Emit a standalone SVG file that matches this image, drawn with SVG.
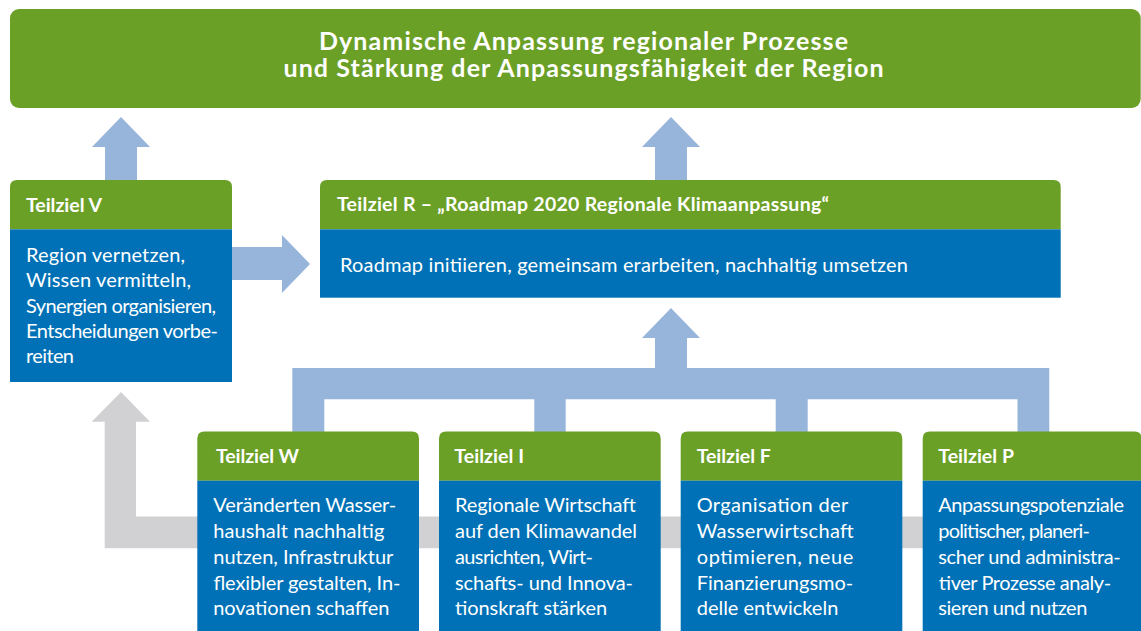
<svg xmlns="http://www.w3.org/2000/svg" width="1141" height="631" viewBox="0 0 1141 631">
<style>
.green{fill:#6ba027}
.blue{fill:#0071b6}
.lb{fill:#97b5db}
.gray{fill:#d1d1d3}
.t{font-family:Lato,"Open Sans","Liberation Sans",sans-serif;font-weight:700;font-size:25px;fill:#fff;text-anchor:middle}
.h{font-family:Lato,"Open Sans","Liberation Sans",sans-serif;font-weight:700;font-size:19.5px;fill:#fff}
.b{font-family:Lato,"Open Sans","Liberation Sans",sans-serif;font-size:20px;fill:#fff}
</style>
<rect width="1141" height="631" fill="#fff"/>
<g id="connectors">
  <polygon class="lb" points="105,180 137,180 137,147 150,147 121,117 92,147 105,147"/>
  <polygon class="lb" points="655,180 687,180 687,147 700,147 671,117 642,147 655,147"/>
  <polygon class="lb" points="232,247 282,247 282,235 310,264 282,293 282,280 232,280"/>
  <path class="lb" d="M292.3,432 V368 H655 V338 H642 L671,308 L700,338 H687 V368 H1049.3 V432 H1017.5 V399.3 H807.7 V432 H775.7 V399.3 H565.7 V432 H534.3 V399.3 H324.3 V432 Z"/>
  <polygon class="gray" points="104.7,548.3 930,548.3 930,516.5 136,516.5 136,421.7 150,421.7 121,392 91.7,421.7 104.7,421.7"/>
</g>
<g id="goal">
  <rect class="green" x="10" y="9" width="1130.7" height="99" rx="9"/>
  <text class="t" x="583.5" y="49.5" textLength="529">Dynamische Anpassung regionaler Prozesse</text>
  <text class="t" x="583.5" y="77" textLength="600">und Stärkung der Anpassungsfähigkeit der Region</text>
</g>
<g id="teilziel-v">
  <path class="green" d="M10,229.3 V187 Q10,180 17,180 H225 Q232,180 232,187 V229.3 Z"/>
  <rect class="blue" x="10" y="229.3" width="222" height="152.7"/>
  <text class="h" x="26" y="211.7" textLength="76">Teilziel V</text>
  <text class="b" x="26" y="262" textLength="159">Region vernetzen,</text>
  <text class="b" x="26" y="287.3" textLength="165">Wissen vermitteln,</text>
  <text class="b" x="26" y="312.6" textLength="190">Synergien organisieren,</text>
  <text class="b" x="26" y="337.9" textLength="192">Entscheidungen vorbe-</text>
  <text class="b" x="26" y="363.2" textLength="48">reiten</text>
</g>
<g id="teilziel-r">
  <path class="green" d="M320,229.3 V187 Q320,180 327,180 H1053.7 Q1060.7,180 1060.7,187 V229.3 Z"/>
  <rect class="blue" x="320" y="229.3" width="740.7" height="68.4"/>
  <text class="h" x="337" y="211.2" textLength="492">Teilziel R – „Roadmap 2020 Regionale Klimaanpassung“</text>
  <text class="b" x="340" y="271.5" textLength="568">Roadmap initiieren, gemeinsam erarbeiten, nachhaltig umsetzen</text>
</g>
<g id="teilziel-w">
  <path class="green" d="M197.3,480.7 V438.5 Q197.3,431.5 204.3,431.5 H412 Q419,431.5 419,438.5 V480.7 Z"/>
  <rect class="blue" x="197.3" y="480.7" width="221.7" height="160"/>
  <text class="h" x="216" y="462.7" textLength="83">Teilziel W</text>
  <text class="b" x="213.3" y="512" textLength="183">Veränderten Wasser-</text>
  <text class="b" x="213.3" y="538" textLength="171">haushalt nachhaltig</text>
  <text class="b" x="213.3" y="564" textLength="180">nutzen, Infrastruktur</text>
  <text class="b" x="213.3" y="589.5" textLength="187">flexibler gestalten, In-</text>
  <text class="b" x="213.3" y="615" textLength="176">novationen schaffen</text>
</g>
<g id="teilziel-i">
  <path class="green" d="M439,480.7 V438.5 Q439,431.5 446,431.5 H653.7 Q660.7,431.5 660.7,438.5 V480.7 Z"/>
  <rect class="blue" x="439" y="480.7" width="221.7" height="160"/>
  <text class="h" x="454.3" y="462.7" textLength="69.7">Teilziel I</text>
  <text class="b" x="455" y="512" textLength="181">Regionale Wirtschaft</text>
  <text class="b" x="455" y="538" textLength="182">auf den Klimawandel</text>
  <text class="b" x="455" y="564" textLength="138">ausrichten, Wirt-</text>
  <text class="b" x="455" y="589.5" textLength="178">schafts- und Innova-</text>
  <text class="b" x="455" y="615" textLength="152">tionskraft stärken</text>
</g>
<g id="teilziel-f">
  <path class="green" d="M680.7,480.7 V438.5 Q680.7,431.5 687.7,431.5 H895.3 Q902.3,431.5 902.3,438.5 V480.7 Z"/>
  <rect class="blue" x="680.7" y="480.7" width="221.6" height="160"/>
  <text class="h" x="696.7" y="462.7" textLength="74">Teilziel F</text>
  <text class="b" x="696.7" y="512" textLength="151.6">Organisation der</text>
  <text class="b" x="696.7" y="538" textLength="157">Wasserwirtschaft</text>
  <text class="b" x="696.7" y="564" textLength="156.6">optimieren, neue</text>
  <text class="b" x="696.7" y="589.5" textLength="156.6">Finanzierungsmo-</text>
  <text class="b" x="696.7" y="615" textLength="141.6">delle entwickeln</text>
</g>
<g id="teilziel-p">
  <path class="green" d="M922.7,480.7 V438.5 Q922.7,431.5 929.7,431.5 H1134.5 Q1141.5,431.5 1141.5,438.5 V480.7 Z"/>
  <rect class="blue" x="922.7" y="480.7" width="218.8" height="160"/>
  <text class="h" x="938.3" y="462.7" textLength="75.7">Teilziel P</text>
  <text class="b" x="938.3" y="512" textLength="185.7">Anpassungspotenziale</text>
  <text class="b" x="938.3" y="538" textLength="151.7">politischer, planeri-</text>
  <text class="b" x="938.3" y="564" textLength="182.4">scher und administra-</text>
  <text class="b" x="938.3" y="589.5" textLength="172.4">tiver Prozesse analy-</text>
  <text class="b" x="938.3" y="615" textLength="149">sieren und nutzen</text>
</g>
</svg>
